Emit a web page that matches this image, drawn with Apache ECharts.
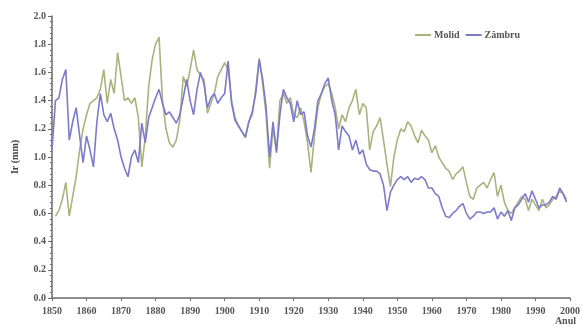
<!DOCTYPE html>
<html><head><meta charset="utf-8">
<script src="https://cdn.jsdelivr.net/npm/echarts@6/dist/echarts.min.js"></script>
<style>html,body{margin:0;padding:0;background:#fff}#c{width:583px;height:333px}</style>
</head><body><div id="c"></div>
<script>
const startYear = 1850;
const endYear = 1999;
const seriesNames = ['Molid', 'Zâmbru'];
const yTickLabels = ['0.0','0.2','0.4','0.6','0.8','1.0','1.2','1.4','1.6','1.8','2.0'];
const xTickLabels = ['1850','1860','1870','1880','1890','1900','1910','1920','1930','1940','1950','1960','1970','1980','1990','2000'];

// Molid, 1850..1999
const molid = [
 null,0.58,0.62,0.70,0.82,0.58,0.72,0.86,1.05,1.20,
 1.30,1.38,1.40,1.42,1.48,1.62,1.38,1.55,1.45,1.74,
 1.57,1.40,1.42,1.38,1.42,1.28,0.93,1.14,1.50,1.69,
 1.80,1.85,1.40,1.20,1.10,1.07,1.12,1.26,1.57,1.50,
 1.62,1.76,1.62,1.58,1.55,1.31,1.38,1.45,1.57,1.62,
 1.67,1.62,1.40,1.28,1.22,1.18,1.14,1.25,1.30,1.48,
 1.70,1.52,1.30,0.92,1.20,1.05,1.40,1.45,1.38,1.42,
 1.30,1.28,1.35,1.25,1.10,0.89,1.15,1.35,1.45,1.50,
 1.52,1.45,1.35,1.20,1.30,1.25,1.35,1.40,1.48,1.30,
 1.38,1.35,1.05,1.18,1.22,1.28,1.12,0.95,0.79,1.00,
 1.12,1.20,1.18,1.25,1.22,1.15,1.10,1.19,1.15,1.12,
 1.03,1.08,1.00,0.96,0.92,0.90,0.84,0.88,0.90,0.93,
 0.82,0.72,0.70,0.78,0.80,0.82,0.78,0.84,0.89,0.72,
 0.80,0.68,0.62,0.60,0.64,0.68,0.72,0.70,0.62,0.70,
 0.66,0.62,0.70,0.64,0.66,0.70,0.72,0.76,0.74,0.70
];
// Zâmbru, 1850..1999
const zambru = [
 1.05,1.40,1.42,1.55,1.62,1.12,1.25,1.35,1.15,0.96,
 1.15,1.05,0.93,1.25,1.45,1.30,1.25,1.31,1.20,1.12,
 1.00,0.92,0.86,1.00,1.05,0.96,1.24,1.10,1.28,1.35,
 1.42,1.48,1.38,1.30,1.32,1.28,1.24,1.30,1.42,1.55,
 1.40,1.30,1.48,1.60,1.52,1.35,1.42,1.45,1.38,1.42,
 1.45,1.68,1.38,1.26,1.22,1.18,1.14,1.25,1.32,1.45,
 1.69,1.55,1.35,1.00,1.25,1.03,1.30,1.48,1.42,1.38,
 1.25,1.40,1.30,1.32,1.15,1.07,1.20,1.40,1.45,1.52,
 1.56,1.40,1.30,1.05,1.22,1.18,1.15,1.05,1.12,1.02,
 1.05,0.95,0.91,0.90,0.90,0.88,0.80,0.62,0.75,0.80,
 0.84,0.86,0.84,0.86,0.82,0.85,0.84,0.86,0.84,0.78,
 0.78,0.74,0.72,0.64,0.58,0.57,0.60,0.62,0.65,0.67,
 0.60,0.56,0.58,0.61,0.61,0.60,0.61,0.61,0.64,0.56,
 0.61,0.58,0.62,0.55,0.64,0.66,0.70,0.74,0.68,0.76,
 0.70,0.64,0.66,0.66,0.68,0.72,0.70,0.78,0.74,0.68
];

const years = [];
for (let y = startYear; y <= endYear; y++) years.push(y);
const pairs = arr => years.map((y, i) => [y, arr[i]]);

const font = 'Liberation Serif';
const axisColor = '#6a6a6a';
const chart = echarts.init(document.getElementById('c'), null, {renderer: 'canvas'});
chart.setOption({
  animation: false,
  backgroundColor: '#fff',
  grid: {left: 52, right: 8, top: 16, bottom: 35},
  legend: {
    left: 410, top: 25, itemGap: 6, itemWidth: 16, itemHeight: 2, icon: 'rect',
    data: seriesNames,
    textStyle: {fontFamily: font, fontSize: 10, fontWeight: 'bold', color: '#555', padding: [0,0,0,-2]}
  },
  xAxis: {
    type: 'value', min: 1850, max: 2000, interval: 10,
    name: 'Anul', nameLocation: 'end', nameGap: 6,
    nameTextStyle: {fontFamily: font, fontSize: 10, fontWeight: 'bold', color: '#555', align: 'right', verticalAlign: 'top', padding: [18,0,0,0]},
    axisLine: {lineStyle: {color: axisColor, width: 1.5}},
    axisTick: {lineStyle: {color: axisColor}, length: 3},
    splitLine: {show: false},
    axisLabel: {fontFamily: font, fontSize: 10, color: '#555', fontWeight: 'bold', margin: 8,
      formatter: v => xTickLabels[Math.round((v - 1850) / 10)]}
  },
  yAxis: {
    type: 'value', min: 0, max: 2.0, interval: 0.2,
    name: 'Ir (mm)', nameLocation: 'middle', nameGap: 32,
    nameTextStyle: {fontFamily: font, fontSize: 10, fontWeight: 'bold', color: '#444'},
    axisLine: {show: true, lineStyle: {color: axisColor, width: 1.5}},
    axisTick: {show: true, lineStyle: {color: axisColor}, length: 4},
    minorTick: {show: true, splitNumber: 5, length: 2, lineStyle: {color: axisColor}},
    splitLine: {show: false},
    axisLabel: {fontFamily: font, fontSize: 10, color: '#555', fontWeight: 'bold', margin: 6,
      formatter: v => yTickLabels[Math.round(v / 0.2)]}
  },
  series: [
    {name: seriesNames[0], type: 'line', data: pairs(molid), showSymbol: false, connectNulls: false,
     lineStyle: {color: '#a8b47e', width: 1.6}, itemStyle: {color: '#a8b47e'}},
    {name: seriesNames[1], type: 'line', data: pairs(zambru), showSymbol: false,
     lineStyle: {color: '#7c7acb', width: 1.6}, itemStyle: {color: '#7c7acb'}}
  ]
});
</script></body></html>
